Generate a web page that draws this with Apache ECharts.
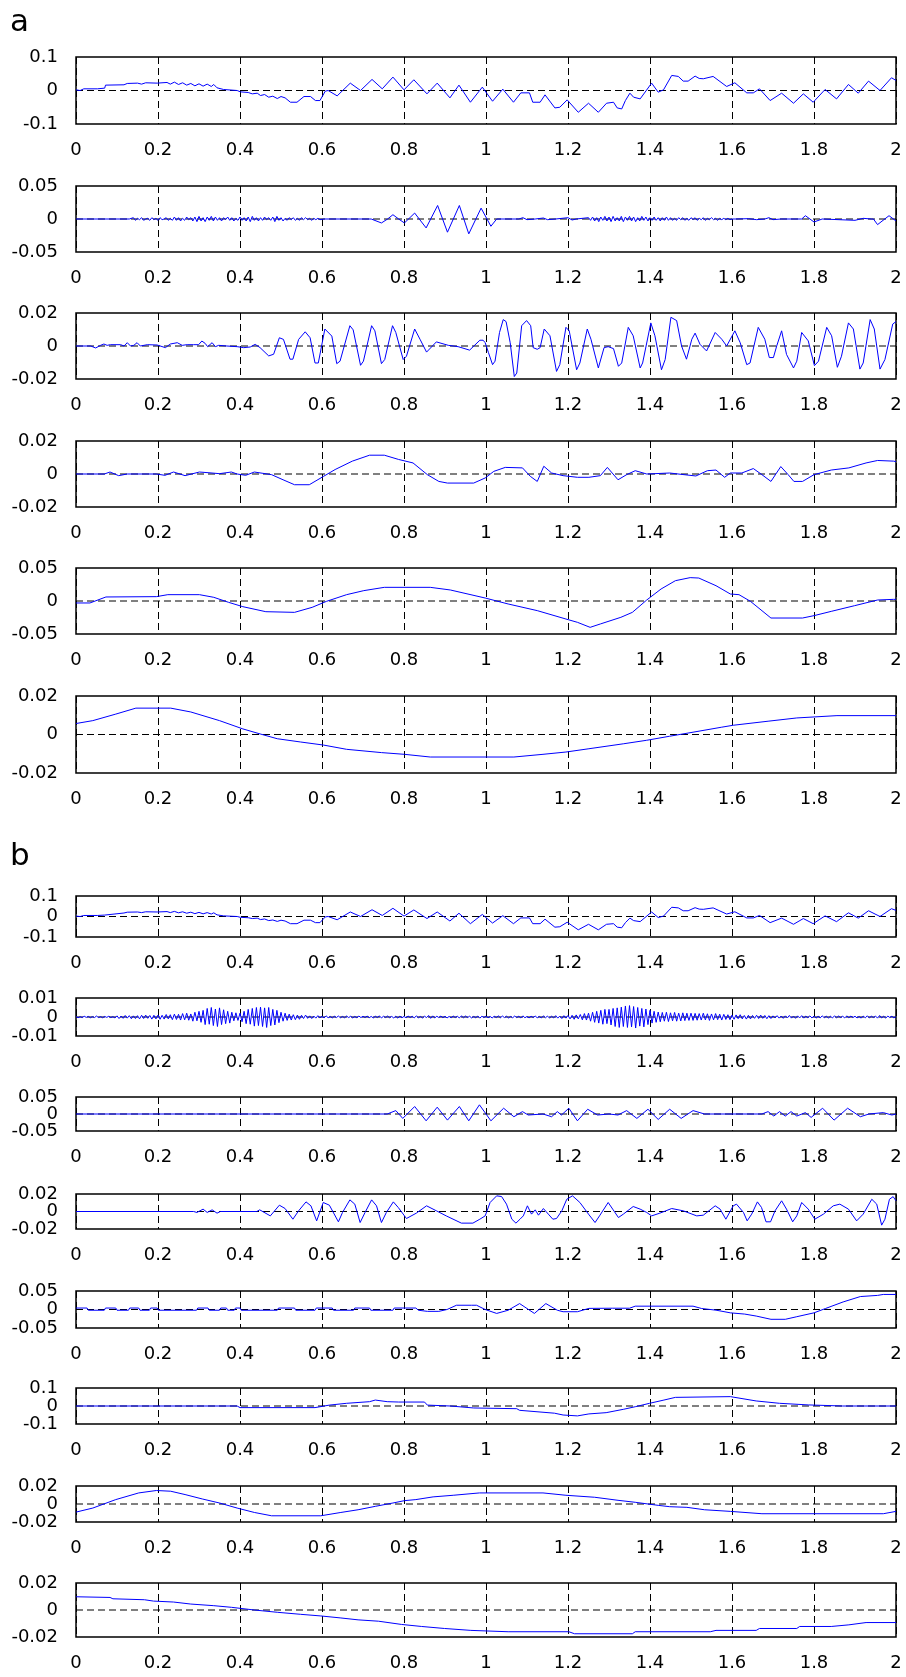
<!DOCTYPE html>
<html><head><meta charset="utf-8">
<script src="https://cdn.jsdelivr.net/npm/echarts/dist/echarts.min.js"></script>
<style>html,body{margin:0;padding:0;background:#fff}#c{width:906px;height:1677px}</style>
</head><body><div id="c"></div>
<script>
// ---------- DATA ----------
const T_MIN = 0, T_MAX = 2, T_STEP = 0.2;
// y-axis half ranges, panels a1..a6, b1..b8
const yMax = [0.1, 0.05, 0.02, 0.02, 0.05, 0.02, 0.1, 0.01, 0.05, 0.02, 0.05, 0.1, 0.02, 0.02];

// original signal (panel a1 and b1)
const signal = [[0,0.002],[0.01,0.0],[0.019,0.005],[0.052,0.005],[0.07,0.007],[0.072,0.016],[0.117,0.017],[0.125,0.021],[0.15,0.022],[0.16,0.019],[0.17,0.023],[0.198,0.022],[0.222,0.024],[0.23,0.019],[0.24,0.025],[0.25,0.018],[0.26,0.023],[0.27,0.016],[0.28,0.021],[0.29,0.014],[0.30,0.02],[0.31,0.013],[0.32,0.019],[0.33,0.012],[0.336,0.018],[0.344,0.008],[0.36,0.003],[0.393,0.0],[0.401,-0.004],[0.42,-0.006],[0.43,-0.01],[0.442,-0.008],[0.45,-0.015],[0.46,-0.012],[0.47,-0.02],[0.48,-0.017],[0.491,-0.024],[0.50,-0.018],[0.51,-0.022],[0.523,-0.035],[0.539,-0.035],[0.556,-0.018],[0.572,-0.018],[0.584,-0.03],[0.595,-0.03],[0.608,-0.002],[0.615,0.0],[0.637,-0.016],[0.669,0.022],[0.694,0.0],[0.722,0.033],[0.747,0.005],[0.773,0.04],[0.8,0.002],[0.824,0.032],[0.856,-0.01],[0.881,0.022],[0.912,-0.022],[0.934,0.016],[0.962,-0.035],[0.991,0.01],[1.016,-0.032],[1.041,0.004],[1.067,-0.035],[1.085,-0.007],[1.106,-0.007],[1.114,-0.035],[1.132,-0.035],[1.144,-0.013],[1.168,-0.052],[1.18,-0.05],[1.198,-0.028],[1.225,-0.065],[1.25,-0.038],[1.274,-0.065],[1.294,-0.038],[1.311,-0.035],[1.32,-0.052],[1.331,-0.055],[1.34,-0.03],[1.351,-0.008],[1.36,-0.02],[1.376,-0.025],[1.404,0.022],[1.42,-0.005],[1.433,0.002],[1.453,0.045],[1.469,0.042],[1.481,0.028],[1.493,0.028],[1.51,0.043],[1.52,0.036],[1.53,0.035],[1.554,0.042],[1.587,0.012],[1.607,0.023],[1.636,-0.007],[1.652,-0.007],[1.667,0.005],[1.693,-0.03],[1.721,-0.008],[1.75,-0.038],[1.774,-0.01],[1.798,-0.035],[1.827,0.003],[1.855,-0.025],[1.884,0.018],[1.908,-0.008],[1.933,0.028],[1.961,0.0],[1.989,0.038],[2.0,0.03]];

// panel a2: sparse points + two noise bursts (values in 1e-3, sampled every 0.005 s)
const a2Pts = [[0,0],[0.13,0],[0.605,0],[0.72,0],[0.745,-0.006],[0.76,0],[0.773,0.0065],[0.787,0],[0.801,-0.006],[0.826,0.009],[0.854,-0.0135],[0.882,0.0205],[0.906,-0.02],[0.935,0.0205],[0.958,-0.0225],[0.988,0.0165],[1.012,-0.011],[1.026,0],[1.08,0],[1.09,0.002],[1.1,-0.001],[1.12,0],[1.14,0.0015],[1.15,-0.001],[1.17,0],[1.2,0.002],[1.21,-0.0015],[1.22,0],[1.61,0],[1.64,0.0005],[1.66,-0.001],[1.68,0],[1.69,0.002],[1.7,-0.001],[1.72,0],[1.77,0],[1.779,0.005],[1.8,-0.0045],[1.82,0],[1.9,-0.002],[1.92,0.001],[1.94,0],[1.945,0],[1.955,-0.0085],[1.983,0.005],[2,-0.003]];
const a2NoiseA = {t0: 0.14, dt: 0.005, unit: 1e-3, vals: [
 2,-2,1,-1,2,-2,0,1,-2,2,-1,1,-2,2,-1,0,2,-2,1,-2,
 3,-2,2,-3,1,-2,3,-1,2,-3,3,-4,4,-3,2,-4,3,-2,4,-3,
 3,-2,2,-3,2,-1,3,-2,2,-3,1,-2,3,-2,2,-3,3,-4,4,-2,
 2,-3,2,-2,3,-1,2,-2,3,-4,4,-2,2,-3,1,-2,2,-1,2,-2,
 1,-2,2,-1,2,-1,1,-2,1,-1,1,-1]};
const a2NoiseB = {t0: 1.25, dt: 0.005, unit: 1e-3, vals: [
 2,-2,3,-3,2,-4,3,-2,4,-3,3,-4,4,-3,2,-3,4,-4,3,-2,
 4,-3,3,-4,2,-3,4,-2,3,-3,2,-2,3,-2,2,-3,2,-2,3,-2,
 2,-2,1,-2,2,-1,2,-2,1,-2,2,-1,2,-2,1,-1,2,-2,1,-1,
 2,-1,1,-2,1,-1,1,-1,1,-1,0]};

const a3Pts = [[0,0],[0.036,0],[0.048,-0.0012],[0.06,0.0004],[0.068,0.0012],[0.076,0.0004],[0.084,0.0008],[0.109,0.0008],[0.117,0],[0.125,0.002],[0.133,0],[0.141,0.0004],[0.149,0.002],[0.157,0],[0.174,0.0008],[0.198,0.0006],[0.218,-0.001],[0.23,0.0012],[0.247,0.002],[0.259,0.0004],[0.271,0.0008],[0.287,0.0008],[0.299,0.0008],[0.307,0.003],[0.315,0.0016],[0.321,-0.0004],[0.332,0.002],[0.34,-0.0004],[0.348,0.0004],[0.368,0],[0.393,-0.0004],[0.409,-0.001],[0.425,-0.0006],[0.437,0.001],[0.449,-0.001],[0.47,-0.006],[0.482,-0.005],[0.496,0.005],[0.506,0.004],[0.522,-0.008],[0.529,-0.008],[0.543,0.004],[0.559,0.0086],[0.571,0.005],[0.583,-0.0103],[0.591,-0.0103],[0.607,0.0103],[0.624,0.006],[0.636,-0.0107],[0.644,-0.0092],[0.668,0.0123],[0.676,0.0098],[0.694,-0.0117],[0.701,-0.0092],[0.721,0.0123],[0.729,0.0092],[0.745,-0.0107],[0.753,-0.0082],[0.772,0.0123],[0.78,0.0082],[0.798,-0.0082],[0.806,-0.0062],[0.826,0.0103],[0.839,0.0041],[0.855,-0.0037],[0.879,0.0025],[0.908,0.0004],[0.932,-0.0004],[0.96,-0.0025],[0.985,0.0035],[0.993,0.0035],[0.998,0.002],[1.006,-0.004],[1.016,-0.0113],[1.022,-0.0092],[1.033,0.0082],[1.042,0.016],[1.049,0.0148],[1.059,0.002],[1.069,-0.0185],[1.075,-0.0164],[1.087,0.0123],[1.099,0.0154],[1.109,0.0123],[1.115,-0.001],[1.125,-0.002],[1.132,-0.001],[1.142,0.0103],[1.156,0.0062],[1.172,-0.0154],[1.18,-0.0113],[1.195,0.0113],[1.203,0.0092],[1.221,-0.0144],[1.229,-0.0103],[1.247,0.0103],[1.256,0.0041],[1.274,-0.0133],[1.288,-0.001],[1.298,-0.0004],[1.311,-0.0016],[1.323,-0.0123],[1.331,-0.0103],[1.347,0.0113],[1.359,0.0062],[1.376,-0.0133],[1.382,-0.0103],[1.402,0.014],[1.412,0.0062],[1.428,-0.0144],[1.437,-0.0082],[1.451,0.0174],[1.465,0.0154],[1.477,0],[1.489,-0.008],[1.502,0.0041],[1.51,0.0078],[1.522,0.001],[1.538,-0.003],[1.559,0.0082],[1.575,0.0041],[1.587,0],[1.607,0.0092],[1.62,0.002],[1.636,-0.0113],[1.644,-0.0103],[1.664,0.0113],[1.68,0.0041],[1.691,-0.007],[1.701,-0.007],[1.709,0],[1.721,0.0092],[1.733,-0.0051],[1.75,-0.0133],[1.758,-0.0092],[1.77,0.0082],[1.786,0.0031],[1.801,-0.0119],[1.811,-0.0092],[1.831,0.0113],[1.843,0.0062],[1.857,-0.0129],[1.867,-0.0062],[1.884,0.014],[1.896,0.0103],[1.912,-0.014],[1.92,-0.0103],[1.937,0.016],[1.947,0.0103],[1.961,-0.014],[1.973,-0.0082],[1.992,0.0133],[2,0.0148]];

const a4Pts = [[0,0],[0.069,0],[0.083,0.0012],[0.104,-0.001],[0.125,0],[0.196,0],[0.217,-0.0008],[0.238,0.0012],[0.266,-0.001],[0.301,0.0012],[0.322,0.0008],[0.35,0.0002],[0.379,0.0012],[0.393,0],[0.414,-0.0008],[0.435,0.0012],[0.456,0.0004],[0.477,-0.0004],[0.505,-0.0035],[0.533,-0.0065],[0.569,-0.0065],[0.604,-0.0014],[0.632,0.0027],[0.674,0.0078],[0.716,0.0114],[0.752,0.0114],[0.787,0.0088],[0.822,0.0067],[0.857,-0.0004],[0.885,-0.0045],[0.906,-0.0055],[0.97,-0.0055],[0.998,-0.0024],[1.019,0.0016],[1.047,0.004],[1.089,0.0037],[1.108,-0.0014],[1.125,-0.0045],[1.141,0.0047],[1.16,0.0006],[1.188,-0.001],[1.223,-0.002],[1.251,-0.002],[1.279,-0.001],[1.296,0.004],[1.322,-0.0035],[1.343,-0.0004],[1.364,0.002],[1.392,0],[1.448,0.0006],[1.483,-0.0004],[1.512,-0.0012],[1.54,0.002],[1.561,0.0024],[1.582,-0.002],[1.596,0.0006],[1.624,0.0006],[1.652,0.0033],[1.673,-0.0004],[1.695,-0.0045],[1.719,0.0045],[1.737,-0.0004],[1.751,-0.0045],[1.772,-0.0045],[1.8,-0.0004],[1.842,0.0024],[1.885,0.0037],[1.927,0.0067],[1.955,0.0082],[1.994,0.0078],[2,0.0075]];

const a5Pts = [[0,-0.003],[0.034,-0.003],[0.073,0.0061],[0.196,0.0066],[0.224,0.0096],[0.301,0.0096],[0.336,0.0056],[0.372,-0.002],[0.407,-0.0086],[0.463,-0.0162],[0.533,-0.0172],[0.576,-0.0096],[0.611,-0.0005],[0.66,0.0096],[0.702,0.0157],[0.752,0.0207],[0.864,0.0207],[0.913,0.0167],[0.998,0.0045],[1.054,-0.0045],[1.125,-0.0146],[1.195,-0.0273],[1.223,-0.0323],[1.254,-0.0399],[1.279,-0.0348],[1.329,-0.0247],[1.357,-0.0172],[1.392,0.0015],[1.427,0.0182],[1.462,0.0308],[1.498,0.0354],[1.519,0.0348],[1.561,0.0232],[1.596,0.0106],[1.617,0.0096],[1.645,-0.0005],[1.695,-0.0258],[1.772,-0.0258],[1.8,-0.0222],[1.842,-0.0157],[1.899,-0.0071],[1.955,0.0015],[1.994,0.0025],[2,0.0025]];

const a6Pts = [[0,0.0057],[0.041,0.0072],[0.097,0.0106],[0.146,0.0137],[0.231,0.0137],[0.28,0.0117],[0.35,0.0072],[0.407,0.0029],[0.449,0.0003],[0.491,-0.0022],[0.548,-0.0039],[0.604,-0.0055],[0.66,-0.0077],[0.745,-0.0094],[0.801,-0.0103],[0.864,-0.0117],[1.068,-0.0117],[1.139,-0.0103],[1.195,-0.0091],[1.251,-0.0074],[1.336,-0.0048],[1.392,-0.003],[1.448,-0.0009],[1.505,0.0012],[1.575,0.0038],[1.603,0.0048],[1.688,0.0069],[1.758,0.0086],[1.856,0.0098],[2,0.0098]];

// panel b2: values in 1e-4, sampled every 0.005 s from 0 to 2
const b2Noise = {t0: 0, dt: 0.005, unit: 1e-4, vals: [
 3,-4,2,-3,4,-2,3,-4,2,-3,5,-3,2,-4,3,-2,4,-3,2,-5,
 6,-8,5,-7,8,-6,7,-9,6,-8,7,-10,9,-8,10,-7,8,-11,9,-10,
 10,-12,9,-11,13,-10,12,-14,15,-13,14,-16,18,-15,20,-17,16,-22,25,-20,
 30,-28,35,-40,45,-38,50,-45,42,-50,48,-40,38,-35,30,-32,25,-20,22,-18,
 20,-25,30,-35,40,-38,45,-48,50,-45,52,-50,48,-55,50,-45,40,-42,35,-30,
 25,-22,20,-18,15,-16,12,-14,10,-12,9,-8,10,-7,6,-8,5,-6,7,-5,
 4,-5,6,-4,3,-5,4,-3,5,-4,3,-4,5,-3,4,-5,3,-4,5,-3,
 4,-3,5,-4,3,-5,4,-3,6,-5,4,-3,5,-4,3,-5,4,-6,5,-4,
 3,-4,5,-3,4,-5,6,-4,3,-5,4,-3,8,-7,6,-5,4,-3,5,-4,
 4,-5,3,-4,5,-3,4,-5,6,-4,5,-3,4,-5,3,-4,5,-6,4,-3,
 5,-4,3,-5,4,-3,6,-4,5,-3,4,-5,3,-4,5,-3,4,-5,6,-4,
 3,-5,4,-3,5,-4,3,-5,6,-4,5,-6,4,-5,7,-6,5,-8,7,-6,
 8,-10,9,-12,11,-10,13,-15,18,-16,20,-22,25,-28,30,-32,35,-38,40,-35,
 40,-42,45,-50,48,-55,52,-50,58,-55,60,-52,55,-58,50,-48,45,-52,42,-40,
 35,-32,30,-28,26,-25,24,-22,25,-24,22,-20,24,-22,20,-21,22,-19,20,-18,
 20,-18,19,-17,18,-16,20,-15,17,-18,16,-15,18,-14,15,-16,14,-13,12,-14,
 10,-12,11,-9,12,-10,8,-11,9,-10,8,-7,9,-8,10,-7,8,-9,7,-8,
 6,-5,7,-6,5,-7,6,-5,8,-6,5,-7,6,-5,7,-6,5,-4,6,-5,
 5,-6,4,-5,6,-4,5,-6,4,-5,6,-4,5,-3,4,-5,6,-4,5,-3,
 4,-5,3,-6,5,-4,6,-5,4,-3,5,-6,8,-5,4,-6,5,-3,4,-5,
 3]};

const b3Pts = [[0,0],[0.759,0],[0.78,0.01],[0.797,-0.013],[0.826,0.022],[0.854,-0.02],[0.881,0.02],[0.906,-0.018],[0.935,0.022],[0.958,-0.02],[0.984,0.027],[1.012,-0.02],[1.043,0.017],[1.068,-0.008],[1.089,0.007],[1.103,-0.003],[1.139,0],[1.16,-0.008],[1.174,0.007],[1.184,-0.003],[1.202,0.017],[1.223,-0.02],[1.248,0.014],[1.272,-0.003],[1.3,0],[1.322,-0.003],[1.343,0.01],[1.368,-0.013],[1.395,0.014],[1.42,-0.016],[1.448,0.014],[1.476,-0.013],[1.505,0.01],[1.533,0],[1.673,0],[1.688,0.007],[1.702,-0.006],[1.716,0.007],[1.73,-0.006],[1.744,0.007],[1.758,-0.006],[1.779,0.004],[1.793,-0.01],[1.821,0.017],[1.849,-0.018],[1.882,0.017],[1.913,-0.008],[1.934,0],[1.969,0.004],[1.99,-0.003],[2,0]];

const b4Pts = [[0,0],[0.287,0],[0.295,-0.0011],[0.31,0.0027],[0.32,-0.0011],[0.332,0.0019],[0.344,-0.0019],[0.352,0],[0.441,0],[0.448,0.0019],[0.474,-0.005],[0.496,0.0072],[0.51,0.0034],[0.529,-0.0088],[0.543,0.0008],[0.561,0.011],[0.573,0.0065],[0.587,-0.0107],[0.603,0.0103],[0.618,0.0072],[0.64,-0.0118],[0.65,-0.0011],[0.668,0.0133],[0.68,0.0084],[0.693,-0.0126],[0.705,-0.0011],[0.721,0.0133],[0.733,0.0065],[0.745,-0.0126],[0.757,-0.0011],[0.774,0.011],[0.786,0.0046],[0.806,-0.008],[0.83,-0.0019],[0.855,0.0065],[0.879,0.0008],[0.903,-0.005],[0.94,-0.0133],[0.968,-0.0133],[0.985,-0.0088],[0.998,-0.005],[1.01,0.0103],[1.026,0.0179],[1.038,0.0171],[1.05,0.0084],[1.063,-0.0088],[1.073,-0.0133],[1.083,-0.0088],[1.091,-0.005],[1.101,0.0065],[1.111,-0.003],[1.12,0.0019],[1.128,-0.0042],[1.14,0.0034],[1.152,-0.003],[1.163,-0.0088],[1.172,-0.008],[1.185,0.0008],[1.197,0.014],[1.211,0.0179],[1.229,0.0103],[1.25,-0.003],[1.266,-0.0126],[1.278,-0.0042],[1.298,0.0103],[1.309,0.0027],[1.323,-0.0069],[1.335,-0.003],[1.359,0.0057],[1.376,0.0027],[1.392,-0.0011],[1.404,-0.005],[1.424,-0.0019],[1.453,0.0034],[1.481,0.0008],[1.514,-0.005],[1.53,-0.0042],[1.559,0.0065],[1.571,0.0027],[1.585,-0.0088],[1.603,0.0065],[1.611,0.0084],[1.628,-0.0011],[1.637,-0.0107],[1.648,-0.003],[1.662,0.011],[1.672,0.0046],[1.683,-0.0118],[1.694,-0.0118],[1.705,0.0008],[1.721,0.0122],[1.733,0.0027],[1.748,-0.0118],[1.758,-0.005],[1.77,0.0103],[1.786,0.0027],[1.802,-0.0088],[1.823,-0.003],[1.847,0.0065],[1.863,0.0084],[1.884,0.0027],[1.904,-0.0107],[1.92,-0.003],[1.941,0.014],[1.953,0.0084],[1.965,-0.0156],[1.973,-0.0088],[1.984,0.014],[1.993,0.017],[2,0.0122]];

const b5Pts = [[0,0.004],[0.027,0.004],[0.03,-0.002],[0.069,-0.002],[0.072,0.004],[0.097,0.004],[0.1,-0.002],[0.128,-0.002],[0.131,0.004],[0.153,0.004],[0.156,-0.002],[0.179,-0.002],[0.182,0.004],[0.198,0.004],[0.201,-0.002],[0.294,-0.002],[0.297,0.004],[0.322,0.004],[0.325,-0.002],[0.35,-0.002],[0.353,0.004],[0.367,0.004],[0.37,-0.002],[0.386,-0.002],[0.389,0.004],[0.4,0.004],[0.403,-0.002],[0.491,-0.002],[0.494,0.004],[0.533,0.004],[0.536,-0.002],[0.583,-0.002],[0.586,0.004],[0.625,0.004],[0.628,-0.002],[0.677,-0.002],[0.68,0.004],[0.716,0.004],[0.719,-0.002],[0.773,-0.002],[0.776,0.004],[0.829,0.004],[0.835,-0.002],[0.857,-0.005],[0.885,-0.005],[0.905,0.0],[0.928,0.0115],[0.965,0.0115],[0.977,0.0115],[0.998,0],[1.026,-0.0106],[1.054,-0.002],[1.082,0.016],[1.118,-0.0106],[1.146,0.016],[1.174,-0.002],[1.188,-0.006],[1.223,-0.006],[1.251,0.003],[1.308,0.0035],[1.35,0.0035],[1.364,0.009],[1.505,0.009],[1.526,0.0027],[1.561,-0.0018],[1.596,-0.009],[1.631,-0.0124],[1.659,-0.0177],[1.695,-0.0265],[1.73,-0.0265],[1.758,-0.0195],[1.8,-0.009],[1.828,0.0027],[1.871,0.0204],[1.913,0.035],[1.955,0.0381],[1.969,0.0407],[2,0.0407]];

const b6Pts = [[0,0],[0.393,0],[0.4,-0.009],[0.583,-0.009],[0.618,0.005],[0.66,0.015],[0.716,0.024],[0.73,0.033],[0.759,0.024],[0.787,0.022],[0.85,0.022],[0.857,0.005],[0.913,0],[0.97,-0.011],[1.075,-0.015],[1.082,-0.024],[1.167,-0.04],[1.188,-0.05],[1.223,-0.055],[1.251,-0.044],[1.293,-0.037],[1.336,-0.018],[1.364,-0.004],[1.399,0.015],[1.434,0.033],[1.462,0.048],[1.596,0.052],[1.659,0.028],[1.716,0.015],[1.786,0.006],[1.87,0],[2,0]];

const b7Pts = [[0,-0.009],[0.041,-0.0045],[0.097,0.0049],[0.153,0.0123],[0.196,0.015],[0.231,0.0142],[0.266,0.0105],[0.308,0.0056],[0.35,0.0011],[0.393,-0.0045],[0.435,-0.0094],[0.477,-0.0131],[0.597,-0.0131],[0.646,-0.0094],[0.688,-0.0064],[0.73,-0.0026],[0.773,0.0011],[0.801,0.0037],[0.829,0.0049],[0.871,0.0079],[0.92,0.0097],[0.984,0.0123],[1.139,0.0123],[1.195,0.0097],[1.265,0.0075],[1.322,0.0041],[1.364,0.0019],[1.42,-0.0015],[1.448,-0.003],[1.49,-0.0037],[1.533,-0.0064],[1.596,-0.0082],[1.673,-0.0108],[1.969,-0.0108],[2,-0.0082]];

const b8Pts = [[0,0.0098],[0.083,0.0093],[0.09,0.0083],[0.167,0.0076],[0.189,0.0066],[0.238,0.0059],[0.28,0.0044],[0.336,0.0032],[0.379,0.002],[0.435,0],[0.491,-0.0017],[0.548,-0.0032],[0.597,-0.0044],[0.646,-0.0059],[0.688,-0.0073],[0.738,-0.0083],[0.794,-0.0107],[0.843,-0.0122],[0.899,-0.0137],[0.963,-0.0151],[1.054,-0.0161],[1.202,-0.0161],[1.216,-0.0176],[1.357,-0.0176],[1.364,-0.0161],[1.547,-0.0161],[1.561,-0.0151],[1.659,-0.0151],[1.667,-0.0137],[1.758,-0.0137],[1.765,-0.0122],[1.842,-0.0122],[1.885,-0.011],[1.927,-0.0093],[2,-0.0093]];

// ---------- BUILD ----------
function build(pts, noises) {
  const out = pts.map(p => [p[0], p[1]]);
  (noises || []).forEach(n => n.vals.forEach((v, i) => out.push([+(n.t0 + i * n.dt).toFixed(4), v * n.unit])));
  out.sort((a, b) => a[0] - b[0]);
  return out;
}
const panelData = [
  build(signal), build(a2Pts, [a2NoiseA, a2NoiseB]), build(a3Pts), build(a4Pts), build(a5Pts), build(a6Pts),
  build(signal), build([], [b2Noise]), build(b3Pts), build(b4Pts), build(b5Pts), build(b6Pts), build(b7Pts), build(b8Pts)
];

// layout (pixels)
const panelTop = [57,186,313,441,568,696, 896,998,1097,1194,1291,1388,1486,1583];
const panelH   = [67,66,66,66,66,77, 41,38,34,35,37,36,36,54];
const FONT = 'DejaVu Sans';

const grids = [], xAxes = [], yAxes = [], series = [];
const yLabelBase = {margin: 18, fontSize: 18, lineHeight: 12, fontFamily: FONT, color: '#000',
  showMinLabel: true, showMaxLabel: true, hideOverlap: false};
panelData.forEach((d, i) => {
  grids.push({left: 76, right: 10, top: panelTop[i], height: panelH[i], show: true,
    borderColor: '#000', borderWidth: 1.5, backgroundColor: '#fff'});
  xAxes.push({type: 'value', gridIndex: i, min: T_MIN, max: T_MAX, interval: T_STEP,
    axisLine: {show: false}, axisTick: {show: false},
    splitLine: {show: true, lineStyle: {color: '#000', width: 1, type: [7, 4]}},
    axisLabel: {margin: 17, fontSize: 18, lineHeight: 18, fontFamily: FONT, color: '#000',
      showMinLabel: true, showMaxLabel: true, hideOverlap: false}});
  // axis carrying the data and the ±limit labels
  yAxes.push({type: 'value', gridIndex: i, position: 'left', offset: 0,
    min: -yMax[i], max: yMax[i], interval: yMax[i],
    axisLine: {show: false}, axisTick: {show: false}, splitLine: {show: false},
    axisLabel: Object.assign({}, yLabelBase, {formatter: v => (Math.abs(v) < 1e-12 ? '' : String(+v.toFixed(4)))})});
  // companion axis (same side) carrying the "0" label only
  yAxes.push({type: 'value', gridIndex: i, position: 'left', offset: 0,
    min: -yMax[i], max: yMax[i], interval: yMax[i],
    axisLine: {show: false}, axisTick: {show: false}, splitLine: {show: false},
    axisLabel: Object.assign({}, yLabelBase, {formatter: v => (Math.abs(v) < 1e-12 ? '0' : '')})});
  series.push({type: 'line', xAxisIndex: i, yAxisIndex: 2 * i, data: [[T_MIN, 0], [T_MAX, 0]],
    symbol: 'none', silent: true, lineStyle: {color: '#000', width: 1, type: [7, 4]}});
  series.push({type: 'line', xAxisIndex: i, yAxisIndex: 2 * i, data: d, symbol: 'none', showSymbol: false,
    sampling: 'none', lineStyle: {color: '#0000ff', width: 1}});
});

const chart = echarts.init(document.getElementById('c'), null, {renderer: 'canvas'});
chart.setOption({
  animation: false,
  backgroundColor: '#fff',
  grid: grids, xAxis: xAxes, yAxis: yAxes, series: series,
  graphic: [
    {type: 'text', left: 10, top: 7, style: {text: 'a', font: '31px "DejaVu Sans"', fill: '#000'}},
    {type: 'text', left: 10, top: 841, style: {text: 'b', font: '31px "DejaVu Sans"', fill: '#000'}}
  ]
});
</script></body></html>
